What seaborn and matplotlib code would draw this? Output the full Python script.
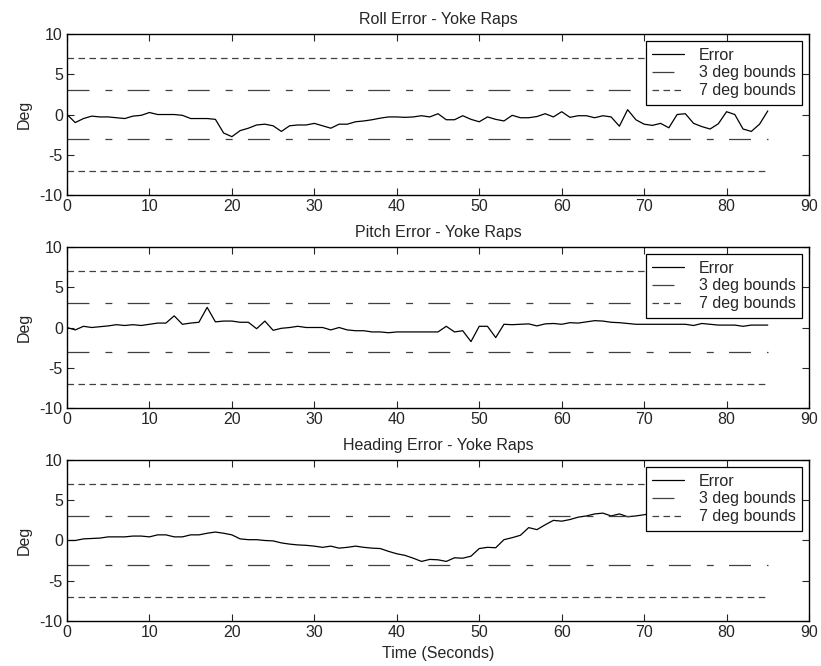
import matplotlib
matplotlib.use("Agg")
import matplotlib.pyplot as plt
import seaborn as sns

# Time axis (seconds)
time = list(range(86))

# Roll error (deg)
roll = [0, -1.0, -0.5, -0.2, -0.3, -0.3, -0.4, -0.5, -0.2, -0.1,
        0.25, 0, 0, 0, -0.1, -0.5, -0.5, -0.5, -0.6, -2.3,
        -2.75, -2.0, -1.7, -1.3, -1.2, -1.4, -2.1, -1.4, -1.3, -1.3,
        -1.1, -1.4, -1.7, -1.2, -1.2, -0.9, -0.8, -0.65, -0.45, -0.3,
        -0.3, -0.35, -0.3, -0.15, -0.3, 0.1, -0.65, -0.65, -0.15, -0.6,
        -0.9, -0.3, -0.6, -0.8, -0.1, -0.4, -0.4, -0.25, 0.1, -0.3,
        0.35, -0.35, -0.15, -0.15, -0.4, -0.15, -0.3, -1.45, 0.6, -0.65,
        -1.2, -1.35, -1.1, -1.65, 0, 0.1, -1.1, -1.5, -1.8, -1.15,
        0.35, 0, -1.8, -2.1, -1.2, 0.45]

# Pitch error (deg)
pitch = [0, -0.3, 0.15, 0, 0.1, 0.2, 0.35, 0.25, 0.35, 0.25,
         0.4, 0.55, 0.55, 1.45, 0.4, 0.55, 0.65, 2.5, 0.7, 0.8,
         0.8, 0.65, 0.65, -0.15, 0.8, -0.35, -0.1, 0, 0.15, 0,
         0, 0, -0.3, 0, -0.3, -0.4, -0.4, -0.55, -0.55, -0.65,
         -0.55, -0.55, -0.55, -0.55, -0.55, -0.55, 0.15, -0.55, -0.4, -1.75,
         0.15, 0.15, -1.25, 0.4, 0.35, 0.4, 0.45, 0.2, 0.45, 0.5,
         0.4, 0.6, 0.55, 0.7, 0.85, 0.8, 0.65, 0.6, 0.5, 0.4,
         0.4, 0.4, 0.4, 0.4, 0.4, 0.4, 0.25, 0.5, 0.4, 0.3,
         0.3, 0.3, 0.15, 0.3, 0.3, 0.3]

# Heading error (deg)
heading = [0, 0, 0.2, 0.25, 0.3, 0.45, 0.45, 0.45, 0.55, 0.55,
           0.45, 0.7, 0.7, 0.45, 0.45, 0.7, 0.7, 0.9, 1.05, 0.9,
           0.7, 0.2, 0.1, 0.1, 0, -0.05, -0.3, -0.45, -0.55, -0.6,
           -0.7, -0.85, -0.7, -0.95, -0.85, -0.7, -0.85, -0.95, -1.0, -1.35,
           -1.65, -1.85, -2.2, -2.6, -2.35, -2.4, -2.6, -2.15, -2.2, -1.95,
           -1.0, -0.85, -0.9, 0.1, 0.35, 0.65, 1.6, 1.35, 1.95, 2.5,
           2.4, 2.6, 2.9, 3.05, 3.3, 3.4, 3.05, 3.3, 2.95, 3.05,
           3.2, 3.4, 3.3, 3.5, 3.4, 3.6, 3.5, 3.7, 3.6, 3.8,
           3.7, 3.9, 3.8, 4.0, 3.9, 4.1]

titles = ["Roll Error - Yoke Raps", "Pitch Error - Yoke Raps", "Heading Error - Yoke Raps"]
bound_x = [0, 85]
bounds_3 = [3, -3]
bounds_7 = [7, -7]
x_ticks = [0, 10, 20, 30, 40, 50, 60, 70, 80, 90]
y_ticks = [-10, -5, 0, 5, 10]

sns.set_style("ticks")
plt.rcParams['font.family'] = ['Liberation Sans', 'DejaVu Sans']
plt.rcParams['font.size'] = 11.5
plt.rcParams['axes.unicode_minus'] = False
plt.rcParams['xtick.direction'] = 'in'
plt.rcParams['ytick.direction'] = 'in'
plt.rcParams['xtick.top'] = True
plt.rcParams['ytick.right'] = True
plt.rcParams['lines.scale_dashes'] = False

fig = plt.figure(figsize=(8.21, 6.66), dpi=100)
bottoms = [0.7072, 0.3874, 0.0676]

# MATLAB-like dash patterns (points)
dash_dot = (0, (15.8, 11.5, 5.0, 11.0))
dashed = (0, (4.7, 3.2))
bound_color = '#404040'

for i, (series, title) in enumerate(zip([roll, pitch, heading], titles)):
    ax = fig.add_axes([0.0816, bottoms[i], 0.9038, 0.2417])
    sns.lineplot(x=time, y=series, ax=ax, color='black', linewidth=0.9, label='Error')
    for k, b in enumerate(bounds_3):
        sns.lineplot(x=bound_x, y=[b, b], ax=ax, color=bound_color, linewidth=0.9,
                     linestyle=dash_dot, label='3 deg bounds' if k == 0 else None)
    for k, b in enumerate(bounds_7):
        sns.lineplot(x=bound_x, y=[b, b], ax=ax, color=bound_color, linewidth=0.9,
                     linestyle=dashed, label='7 deg bounds' if k == 0 else None)

    ax.set_xlim(0, 90)
    ax.set_ylim(-10, 10)
    ax.set_xticks(x_ticks)
    ax.set_yticks(y_ticks)
    ax.tick_params(length=5, width=0.8, labelsize=11.5, pad=3)
    for s in ax.spines.values():
        s.set_linewidth(1.0)
        s.set_color('black')
    ax.set_title(title, fontsize=11.5, pad=7)
    ax.set_ylabel("Deg", fontsize=11.5, labelpad=6)
    ax.set_xlabel("Time (Seconds)" if i == 2 else "", fontsize=11.5, labelpad=4)

    leg = ax.legend(loc='upper right', frameon=True, fancybox=False, framealpha=1,
                    edgecolor='black', handlelength=2.0, handletextpad=0.9,
                    borderpad=0.4, labelspacing=0.18, borderaxespad=0.45, fontsize=11.5)
    leg.get_frame().set_linewidth(0.9)

plt.savefig("out.png", dpi=100)
